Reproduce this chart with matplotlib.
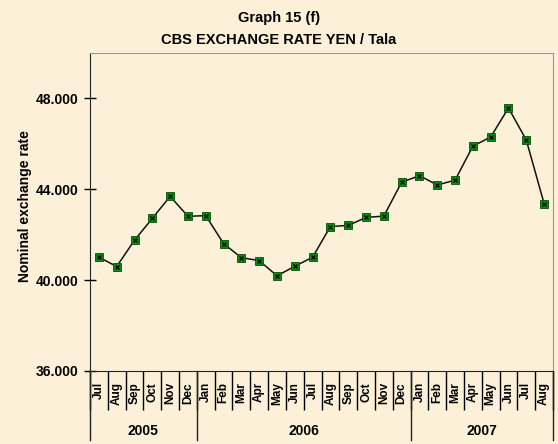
import numpy as np
import matplotlib.pyplot as plt
from matplotlib.lines import Line2D
import matplotlib.transforms as mtransforms

plt.rcParams['font.family'] = ['Liberation Sans', 'DejaVu Sans']
narrow = ['Liberation Sans Narrow', 'Liberation Sans', 'DejaVu Sans']

# ------------------------------------------------------
#  Data (Jul 2005 - Aug 2007)
# ------------------------------------------------------
months = ['Jul', 'Aug', 'Sep', 'Oct', 'Nov', 'Dec',
          'Jan', 'Feb', 'Mar', 'Apr', 'May', 'Jun', 'Jul', 'Aug', 'Sep', 'Oct', 'Nov', 'Dec',
          'Jan', 'Feb', 'Mar', 'Apr', 'May', 'Jun', 'Jul', 'Aug']
years = ['2005', '2006', '2007']
year_counts = [6, 12, 8]
rate = [41.01, 40.60, 41.76, 42.72, 43.69, 42.81,
        42.84, 41.61, 40.99, 40.86, 40.19, 40.61, 41.01, 42.36, 42.41, 42.76, 42.82, 44.31,
        44.60, 44.19, 44.40, 45.90, 46.30, 47.58, 46.17, 43.37]
yticks = [36, 40, 44, 48]

bg = '#FCF1D8'

fig = plt.figure(figsize=(5.58, 4.44), dpi=100, facecolor=bg)
ax = fig.add_axes([90/558, 73/444, 463/558, 318/444], facecolor=bg)

x = np.arange(len(rate))
ax.plot(x, rate, color='#111111', lw=1.1, zorder=2)
ax.plot(x, rate, ls='none', marker='s', ms=5.5, mfc='#0A8A0A', mec='#064F06', mew=0.6, zorder=3)
ax.plot(x, rate, ls='none', marker='x', ms=3.2, mec='black', mew=0.9, zorder=4)

ax.set_xlim(-0.5, len(rate) - 0.5)
ax.set_ylim(36, 50)

# y axis
ax.set_yticks(yticks)
ax.set_yticklabels(['%.3f' % v for v in yticks], fontsize=10, fontweight='bold', family=narrow)
ax.tick_params(axis='y', direction='inout', length=8, width=1, pad=4)
ax.set_ylabel('Nominal exchange rate', fontsize=10, fontweight='bold')
ax.yaxis.set_label_coords(-0.125, 0.52)

# x axis: month boundaries as major ticks, names at minor positions
ax.set_xticks(np.arange(-0.5, len(rate), 1.0))
ax.set_xticklabels([])
ax.tick_params(axis='x', which='major', direction='out', length=28, width=1)
ax.set_xticks(x, minor=True)
ax.set_xticklabels(months, minor=True, rotation=90, fontsize=8.5, fontweight='bold')
ax.tick_params(axis='x', which='minor', length=0, pad=8)

# year separators and labels
trans = mtransforms.blended_transform_factory(ax.transData, ax.transAxes)
edges = np.concatenate([[0], np.cumsum(year_counts)]) - 0.5
for e in edges:
    ax.add_line(Line2D([e, e], [0, -0.217], transform=trans, color='#222222',
                       lw=1, clip_on=False))
for i, yr in enumerate(years):
    ax.text((edges[i] + edges[i + 1]) / 2, -0.188, yr, transform=trans,
            ha='center', va='center', fontsize=10, fontweight='bold', family=narrow)

for s in ['left', 'bottom']:
    ax.spines[s].set_color('#222222')
for s in ['top', 'right']:
    ax.spines[s].set_color('#999999')

fig.text(0.5, 1 - 18/444, 'Graph 15 (f)', ha='center', va='center',
         fontsize=10.5, fontweight='bold')
fig.text(0.5, 1 - 40/444, 'CBS EXCHANGE RATE YEN / Tala', ha='center', va='center',
         fontsize=10.5, fontweight='bold')

fig.savefig('out.png', dpi=100, facecolor=bg)
